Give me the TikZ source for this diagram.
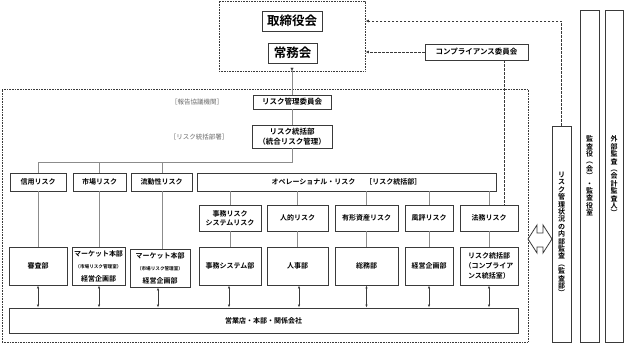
\documentclass[tikz,border=0pt]{standalone}
\usepackage{fontspec}
\setmainfont{Noto Sans CJK JP}[BoldFont={Noto Sans CJK JP Bold}]
\usetikzlibrary{arrows.meta}
\definecolor{bord}{HTML}{3A3A3A}
\definecolor{tline}{HTML}{8C8C8C}
\definecolor{lbl}{HTML}{6A6A6A}
\tikzset{
  box/.style={draw=bord, line width=0.9pt, fill=white, inner sep=0pt, align=center,
    font=\bfseries\fontsize{7}{9}\selectfont},
  dotbox/.style={draw=bord, line width=0.8pt, dash pattern=on 0.8pt off 0.8pt, inner sep=0pt},
  tree/.style={draw=tline, line width=0.8pt},
  dbl/.style={draw=bord, line width=0.6pt, {Latex[length=3pt,width=2.4pt]}-{Latex[length=3pt,width=2.4pt]}},
  dashline/.style={draw=bord, line width=0.7pt, dash pattern=on 2.5pt off 1.5pt},
  tip/.style={-{Latex[length=3.5pt,width=2.8pt]}},
  lbltext/.style={text=lbl, font=\fontsize{6.5}{7}\selectfont, inner sep=0pt},
  vtext/.style={font=\bfseries\fontsize{7}{7.4}\selectfont},
}
\newcommand\bx[7][]{\node[box,minimum width={(#5-#3)*1pt},minimum height={(#6-#4)*1pt},#1] (#2) at ({(#3+#5)/2},{(#4+#6)/2}) {#7};}
\newcommand\dbx[5]{\node[dotbox,minimum width={(#4-#2)*1pt},minimum height={(#5-#3)*1pt}] (#1) at ({(#2+#4)/2},{(#3+#5)/2}) {};}
\newcommand\smallp[1]{{\fontsize{4.6}{5}\selectfont #1}}
\begin{document}
\begin{tikzpicture}[x=1pt,y=-1pt]
\useasboundingbox[fill=white] (0,0) rectangle (624,344);
% dotted frames
\dbx{topb}{219}{1}{365}{71}
\dbx{bigb}{2}{89}{528}{342}
% board
\bx[font=\bfseries\fontsize{12.5}{14}\selectfont]{tori}{262}{11}{322}{31}{取締役会}
\bx[font=\bfseries\fontsize{12.5}{14}\selectfont]{jomu}{268}{43}{317}{63}{常務会}
% committees
\bx[font=\bfseries\fontsize{7.5}{9}\selectfont]{iinkai}{253}{95}{331}{109}{リスク管理委員会}
\bx[font=\bfseries\fontsize{7.5}{9.5}\selectfont]{tokatsu}{252}{125}{332}{148}{リスク統括部\\（統合リスク管理）}
\node[lbltext] (l1) at (197,102) {［報告協議機関］};
\node[lbltext] (l2) at (199,137) {［リスク統括部署］};
\draw[tree] (iinkai.north) -- (topb.south);
\draw[draw=bord, line width=0.1pt, tip] ([yshift=3pt]topb.south) -- (topb.south);
\draw[tree] (iinkai) -- (tokatsu);
% risk boxes
\bx{shinyo}{10}{173}{66}{191}{信用リスク}
\bx{shijo}{73}{173}{126}{191}{市場リスク}
\bx{ryudo}{131}{173}{192}{191}{流動性リスク}
\bx{opr}{197}{173}{496}{191}{オペレーショナル・リスク\hspace{10pt}［リスク統括部］}
\coordinate (hb) at (292,162);
\draw[tree] (tokatsu.south) -- (hb) -| (shinyo.north);
\draw[tree] (shijo.north) -- (shijo.north |- hb);
\draw[tree] ([xshift=0.5pt]ryudo.north) -- ([xshift=0.5pt]ryudo.north |- hb);
% operational sub risks
\bx{jimu}{199}{205}{261}{231}{事務リスク\\システムリスク}
\bx{jinteki}{267}{205}{328}{231}{人的リスク}
\bx{yukei}{335}{205}{398}{231}{有形資産リスク}
\bx{fuhyo}{405}{205}{453}{231}{風評リスク}
\bx{homu}{460}{205}{518}{231}{法務リスク}
\foreach \n in {jimu,jinteki,yukei,fuhyo,homu}{
  \draw[tree] (\n.north |- opr.south) -- (\n.north);
}
% departments
\bx{shinsa}{9}{247}{67}{285}{審査部}
\bx[font=\bfseries\fontsize{7}{12.5}\selectfont]{mkt1}{72}{247}{125}{285}{マーケット本部\\\smallp{（市場リスク管理室）}\\経営企画部}
\bx[font=\bfseries\fontsize{7}{12.5}\selectfont]{mkt2}{130}{249}{190}{287}{マーケット本部\\\smallp{（市場リスク管理室）}\\経営企画部}
\bx{jsys}{199}{247}{261}{285}{事務システム部}
\bx{jinji}{267}{247}{328}{285}{人事部}
\bx{somu}{335}{247}{398}{285}{総務部}
\bx{keiei}{405}{247}{453}{285}{経営企画部}
\bx[font=\bfseries\fontsize{7}{10}\selectfont]{risk2}{460}{247}{518}{285}{リスク統括部\\（コンプライア\\ンス統括室）}
\draw[tree] (shinyo) -- (shinsa);
\draw[tree] (shijo.south) -- (shijo.south |- mkt1.north);
\draw[tree] ([xshift=0.5pt]ryudo.south) -- ([xshift=0.5pt]ryudo.south |- mkt2.north);
\draw[tree] (jimu.south) -- (jimu.south |- jsys.north);
\draw[tree] (jinteki.south) -- (jinteki.south |- jinji.north);
\draw[tree] (yukei.south) -- (yukei.south |- somu.north);
\draw[tree] (fuhyo.south) -- (fuhyo.south |- keiei.north);
\draw[tree] (homu.south) -- (homu.south |- risk2.north);
% bottom
\bx{eigyo}{9}{308}{518}{333}{営業店・本部・関係会社}
\draw[dbl] (shinsa.south) -- (shinsa.south |- eigyo.north);
\draw[dbl] ([xshift=0.5pt]mkt1.south) -- ([xshift=0.5pt]mkt1.south |- eigyo.north);
\draw[dbl] ([xshift=-2pt]mkt2.south) -- ([xshift=-2pt]mkt2.south |- eigyo.north);
\draw[dbl] ([xshift=-1pt]jsys.south) -- ([xshift=-1pt]jsys.south |- eigyo.north);
\draw[dbl] ([xshift=1.5pt]jinji.south) -- ([xshift=1.5pt]jinji.south |- eigyo.north);
\draw[dbl] (somu.south) -- (somu.south |- eigyo.north);
\draw[dbl] (keiei.south) -- (keiei.south |- eigyo.north);
\draw[dbl] (risk2.south) -- (risk2.south |- eigyo.north);
% compliance
\bx[font=\bfseries\fontsize{7.5}{9}\selectfont]{comp}{425}{44}{528}{60}{コンプライアンス委員会}
\draw[dashline, tip] (comp.west) -- (comp.west -| topb.east);
\draw[dashline] ([xshift=27.5pt]comp.south) -- ([xshift=27.5pt]comp.south |- homu.north);
% audit columns
\bx[vtext]{naibu}{552}{126}{571}{342}{リ\\ス\\ク\\管\\理\\状\\況\\の\\内\\部\\監\\査\\︵\\監\\査\\部\\︶}
\bx[vtext]{kansa}{580}{10}{599}{342}{監\\査\\役\\︵\\会\\︶\\・\\監\\査\\役\\室}
\bx[vtext]{gaibu}{605}{10}{623}{342}{外\\部\\監\\査\\︵\\会\\計\\監\\査\\人\\︶}
\draw[dashline, tip] (naibu.north) |- (tori -| topb.east);
% hollow double arrow
\draw[draw=bord, line width=0.8pt, fill=white, line join=miter]
  (528,239) -- (537,225) -- (537,233) -- (543,233) -- (543,225) -- (552,239)
  -- (543,253) -- (543,247) -- (537,247) -- (537,253) -- cycle;
\end{tikzpicture}
\end{document}
